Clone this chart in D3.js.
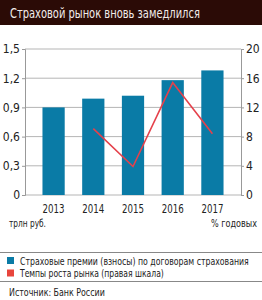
<!DOCTYPE html>
<html>
<head>
<meta charset="utf-8">
<script src="https://cdn.jsdelivr.net/npm/d3@7"></script>
<style>
  body { margin: 0; background: #fff; }
  svg text { font-family: "Liberation Sans Narrow", "DejaVu Sans Condensed", sans-serif; fill: #222; }
</style>
</head>
<body>
<div id="chart"></div>
<script>
// data
var years = ["2013", "2014", "2015", "2016", "2017"];
var premiums = [0.90, 0.99, 1.02, 1.18, 1.28];       // трлн руб.
var growth = [null, 9.1, 3.9, 15.4, 8.4];            // % годовых
var leftTicks = [0, 0.3, 0.6, 0.9, 1.2, 1.5];
var rightTicks = [0, 4, 8, 12, 16, 20];

var W = 262, H = 300;
var margin = {top: 49, left: 25, right: 21, bottom: 105};
var width = W - margin.left - margin.right,
    height = H - margin.top - margin.bottom;

var svg = d3.select("#chart").append("svg")
  .attr("width", W)
  .attr("height", H);

// condensed look: draw text at (x,y) and squeeze it horizontally to width w
function label(parent, x, y, txt, size, w, anchor) {
  var t = parent.append("text")
    .style("font-size", size + "px")
    .attr("text-anchor", anchor || "start")
    .text(txt);
  var k = w / t.node().getComputedTextLength();
  t.attr("transform", "translate(" + x + "," + y + ") scale(" + k + ",1)");
  return t;
}

// title bar
svg.append("rect").attr("x", 0).attr("y", 0).attr("width", W).attr("height", 25).attr("fill", "#2b0b06");
label(svg, 10, 18, "Страховой рынок вновь замедлился", 14, 190).style("fill", "#f2ecea");

var g = svg.append("g").attr("transform", "translate(" + margin.left + "," + margin.top + ")");

var x = d3.scaleBand().domain(years).range([0, width]).padding(0.44);
var y = d3.scaleLinear().domain([0, 1.5]).range([height, 0]);
var y2 = d3.scaleLinear().domain([0, 20]).range([height, 0]);

var fmt = function(d) { return d === 0 ? "0" : d3.format(".1f")(d).replace(".", ","); };

// grid
g.selectAll(".grid").data(leftTicks).enter().append("line")
  .attr("x1", 0).attr("x2", width)
  .attr("y1", function(d) { return y(d); }).attr("y2", function(d) { return y(d); })
  .attr("stroke", "#b5b5b5").attr("stroke-width", 1);

// bars
g.selectAll(".bar").data(premiums).enter().append("rect")
  .attr("x", function(d, i) { return x(years[i]); })
  .attr("y", function(d) { return y(d); })
  .attr("width", x.bandwidth())
  .attr("height", function(d) { return height - y(d); })
  .attr("fill", "#0a7ba6");

// left axis
var yAxis = g.append("g").call(d3.axisLeft(y).tickValues(leftTicks).tickFormat(fmt).tickSize(3).tickPadding(2));
yAxis.select(".domain").attr("stroke", "#999");
yAxis.selectAll(".tick line").attr("stroke", "#999");
yAxis.selectAll("text").style("font-size", "12px").attr("fill", "#333");

// right axis
var y2Axis = g.append("g").attr("transform", "translate(" + width + ",0)")
  .call(d3.axisRight(y2).tickValues(rightTicks).tickSize(3).tickPadding(2));
y2Axis.select(".domain").attr("stroke", "#999");
y2Axis.selectAll(".tick line").attr("stroke", "#999");
y2Axis.selectAll("text").style("font-size", "12px").attr("fill", "#333");

// line
var line = d3.line()
  .defined(function(d) { return d != null; })
  .x(function(d, i) { return x(years[i]) + x.bandwidth() / 2; })
  .y(function(d) { return y2(d); });
g.append("path").datum(growth)
  .attr("d", line)
  .attr("fill", "none")
  .attr("stroke", "#e5414b")
  .attr("stroke-width", 1.6);

// x labels
years.forEach(function(d) {
  label(g, x(d) + x.bandwidth() / 2, height + 18, d, 12, 22, "middle");
});

label(svg, 9, 227, "трлн руб.", 11, 37);
label(svg, 257, 227, "% годовых", 11, 46, "end");

// legend
svg.append("line").attr("x1", 0).attr("x2", W).attr("y1", 252.5).attr("y2", 252.5).attr("stroke", "#888");
var legend = [
  {label: "Страховые премии (взносы) по договорам страхования", color: "#0a7ba6", w: 229},
  {label: "Темпы роста рынка (правая шкала)", color: "#e8453c", w: 144}
];
legend.forEach(function(d, i) {
  var lg = svg.append("g").attr("transform", "translate(7," + (257 + i * 12.5) + ")");
  lg.append("rect").attr("width", 7).attr("height", 7).attr("fill", d.color);
  label(lg, 13, 7.5, d.label, 11, d.w);
});

svg.append("line").attr("x1", 0).attr("x2", W).attr("y1", 281.5).attr("y2", 281.5).attr("stroke", "#888");
label(svg, 9, 296, "Источник: Банк России", 11, 96);
</script>
</body>
</html>
